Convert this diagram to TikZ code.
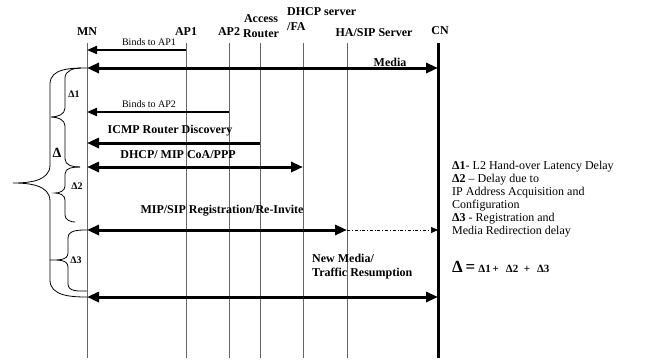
\documentclass[tikz,border=0pt]{standalone}
\usepackage{fontspec}
\setmainfont{Liberation Serif}
\usetikzlibrary{arrows.meta}

\begin{document}
\begin{tikzpicture}[x=1pt,y=-1pt]
\useasboundingbox (0,0) rectangle (647,360);
\tikzstyle{head}=[font=\bfseries\fontsize{12}{14.5}\selectfont,inner sep=0pt]
\tikzstyle{life}=[draw=black!60,line width=0.9pt]
\tikzstyle{msg}=[line width=3pt,-{Triangle[length=12pt,width=10pt]}]
\tikzstyle{dmsg}=[line width=3pt,{Triangle[length=12pt,width=10pt]}-{Triangle[length=12pt,width=10pt]}]
\tikzstyle{bind}=[line width=2pt,-{Triangle[length=10pt,width=8pt]}]
\tikzstyle{lab}=[font=\bfseries\fontsize{12}{14}\selectfont,inner sep=0pt]
\tikzstyle{small}=[font=\fontsize{10}{12}\selectfont,inner sep=0pt]
\tikzstyle{delta}=[font=\bfseries\fontsize{10}{12}\selectfont,inner sep=0pt]
\tikzstyle{brace}=[line width=0.8pt]
% entities
\node[head] (mn) at (87,32) {MN};
\node[head] (ap1) at (186,32) {AP1};
\node[head] (ap2) at (229,32) {AP2};
\node[head,align=center] (ar) at (261,26) {Access\\Router};
\node[head,align=left,anchor=west] (dhcp) at (287,19) {DHCP server\\/FA};
\node[head] (ha) at (374,33) {HA/SIP Server};
\node[head] (cn) at (440,31) {CN};
% lifelines
\foreach \n/\x in {mn/87,ap1/186,ap2/229,ar/260,dhcp/303,ha/347,cn/438}{
  \coordinate (\n T) at (\x,43);
  \coordinate (\n B) at (\x,358);
}
\foreach \n in {mn,ap1,ap2,ar,dhcp,ha}
  \draw[life] (\n T) -- (\n B);
\draw[line width=3pt] (cnT) -- (cnB);
% message rows
\coordinate (r1) at (0,50);
\coordinate (r2) at (0,68);
\coordinate (r3) at (0,112);
\coordinate (r4) at (0,143);
\coordinate (r5) at (0,167);
\coordinate (r6) at (0,230);
\coordinate (r7) at (0,297);
% messages
\node[small] (b1) at (149,42) {Binds to AP1};
\draw[bind] (ap1T |- r1) -- (mnT |- r1);
\node[lab] (media) at (390,62) {Media};
\draw[dmsg] (mnT |- r2) -- (cnT |- r2);
\node[small] (b2) at (149,104) {Binds to AP2};
\draw[bind] (ap2T |- r3) -- (mnT |- r3);
\node[lab] (icmp) at (170,131) {ICMP Router Discovery};
\draw[msg] (arT |- r4) -- (mnT |- r4);
\node[lab] (coa) at (178,155) {DHCP/ MIP CoA/PPP};
\draw[dmsg] (mnT |- r5) -- (dhcpT |- r5);
\node[lab] (reg) at (222,211) {MIP/SIP Registration/Re-Invite};
\draw[dmsg] (mnT |- r6) -- (haT |- r6);
\draw[line width=0.6pt,dash dot,-{Triangle[length=7pt,width=6pt]}] (haT |- r6) -- (cnT |- r6);
\node[lab,align=left,anchor=west] (new) at (312,267) {New Media/\\Traffic Resumption};
\draw[dmsg] (mnT |- r7) -- (cnT |- r7);
% braces
\draw[brace] (87,68) to[out=180,in=90] (50,84) -- (50,165) to[out=-90,in=0] (13,183)
  to[out=0,in=90] (50,201) -- (50,280) to[out=-90,in=180] (87,297);
\draw[brace] (81,68) to[out=180,in=90] (65,78) -- (65,108) to[out=-90,in=0] (51,117)
  to[out=0,in=90] (65,126) -- (65,159) to[out=-90,in=180] (80,167);
\draw[brace] (80,167) to[out=180,in=90] (65,174) -- (65,186) to[out=-90,in=0] (55,193)
  to[out=0,in=90] (65,200) -- (65,215) to[out=-90,in=180] (75,222);
\draw[brace] (87,230) to[out=180,in=90] (68,238) -- (68,253) to[out=-90,in=0] (50,260)
  to[out=0,in=90] (68,267) -- (68,284) to[out=-90,in=180] (87,291);
\node[delta] (d1) at (74,94) {Δ1};
\node[delta,font=\bfseries\fontsize{14}{14}\selectfont] (d) at (57,153) {Δ};
\node[delta] (d2) at (77,186) {Δ2};
\node[delta] (d3) at (76,260) {Δ3};
% key
\node[align=left,anchor=north west,inner sep=0pt,font=\fontsize{12}{13}\selectfont] (key) at (452,161)
  {\textbf{Δ1}- L2 Hand-over Latency Delay\\
   \textbf{Δ2} – Delay due to\\
   IP Address Acquisition and\\
   Configuration\\
   \textbf{Δ3} - Registration and\\
   Media Redirection delay};
\node[anchor=west,inner sep=0pt,font=\bfseries\fontsize{11}{12}\selectfont] (sum) at (452,267)
  {{\fontsize{17}{17}\selectfont Δ\,=}\hspace{3pt}Δ1\,+\hspace{7pt}Δ2\ \ +\hspace{7pt}Δ3};
\end{tikzpicture}
\end{document}
